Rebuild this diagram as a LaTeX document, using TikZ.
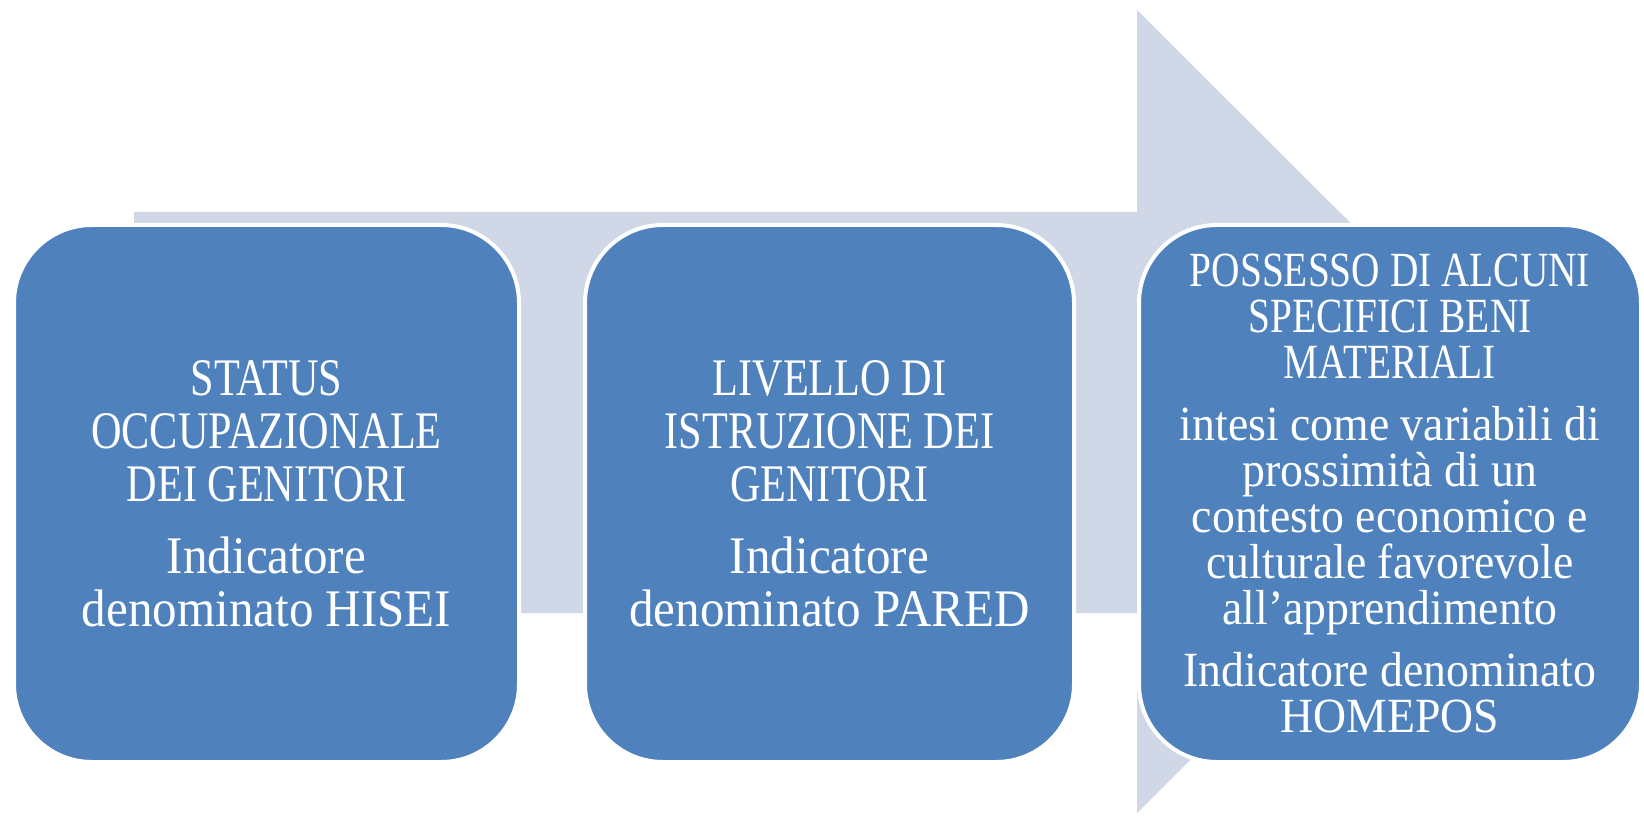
\documentclass[tikz,border=0pt]{standalone}
\usepackage{fontspec}
\setmainfont{Liberation Serif}
\newfontfamily\capsf{Liberation Serif}[FakeStretch=0.80]
\newfontfamily\lowf{Liberation Serif}[FakeStretch=0.93]
\definecolor{boxblue}{RGB}{79,129,189}
\definecolor{arrowgray}{RGB}{208,216,232}
\begin{document}
\begin{tikzpicture}[x=0.5pt,y=-0.5pt,
  stepbox/.style={draw=white, line width=2pt, fill=boxblue, rounded corners=39pt,
    minimum height=268.5pt, text=white, align=center, inner sep=0pt},
  bigtext/.style={font=\fontsize{26.4}{26.5}\selectfont},
  smalltext/.style={font=\fontsize{24.6}{23}\selectfont}]
\useasboundingbox (0,0) rectangle (1644,818);
\fill[arrowgray] (134,212) -- (1137,212) -- (1137,10) -- (1540,412) -- (1137,813) -- (1137,613) -- (134,613) -- cycle;
\node[stepbox, bigtext, minimum width=252.5pt] (b1) at (266.5,493.5)
  {\capsf STATUS\\ \capsf OCCUPAZIONALE\\ \capsf DEI GENITORI\\[9.5pt]
   \lowf Indicatore\\ \lowf denominato HISEI};
\node[stepbox, bigtext, minimum width=244.5pt] (b2) at (829.5,493.5)
  {\capsf LIVELLO DI\\ \capsf ISTRUZIONE DEI\\ \capsf GENITORI\\[9.5pt]
   \lowf Indicatore\\ \lowf denominato PARED};
\node[stepbox, smalltext, minimum width=251pt] (b3) at (1390,493.5)
  {\capsf POSSESSO DI ALCUNI\\ \capsf SPECIFICI BENI\\ \capsf MATERIALI\\[8pt]
   \lowf intesi come variabili di\\ \lowf prossimità di un\\ \lowf contesto economico e\\
   \lowf culturale favorevole\\ \lowf all’apprendimento\\[8pt]
   \lowf Indicatore denominato\\ \lowf HOMEPOS};
\end{tikzpicture}
\end{document}
